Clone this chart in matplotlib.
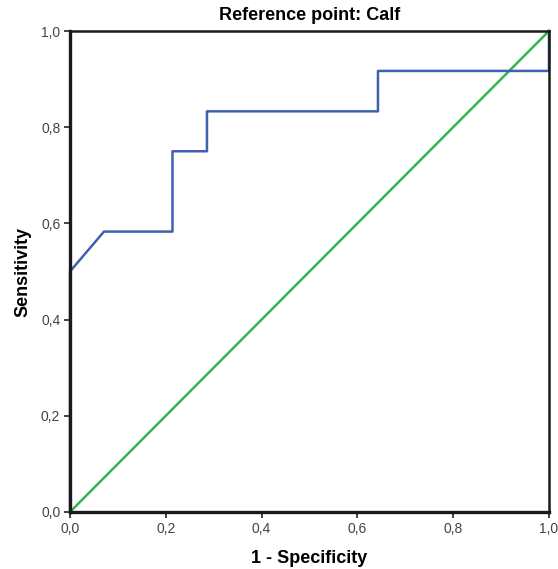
import matplotlib
matplotlib.use('Agg')
import matplotlib.pyplot as plt
from matplotlib.ticker import FuncFormatter

# courbe ROC
fpr = [0.0, 0.0, 0.071, 0.214, 0.214, 0.286, 0.286, 0.643, 0.643, 1.0, 1.0]
tpr = [0.0, 0.5, 0.583, 0.583, 0.75, 0.75, 0.833, 0.833, 0.917, 0.917, 1.0]
ref_x = [0.0, 1.0]
ref_y = [0.0, 1.0]
ticks = [0.0, 0.2, 0.4, 0.6, 0.8, 1.0]

plt.rcParams['font.family'] = ['Liberation Sans', 'DejaVu Sans']

fig = plt.figure(figsize=(5.58, 5.69), dpi=100)
ax = fig.add_axes([0.1254, 0.1002, 0.8584, 0.8453])

# lignes sous les axes pour que le cadre noir les recouvre
ax.plot(ref_x, ref_y, color='#2fb84c', lw=1.8, clip_on=False, zorder=1.9)
ax.plot(fpr, tpr, color='#4060b0', lw=1.8, clip_on=False, zorder=2)

ax.set_xlim(0, 1)
ax.set_ylim(0, 1)
ax.set_xticks(ticks)
ax.set_yticks(ticks)
virgule = FuncFormatter(lambda v, p: ('%.1f' % v).replace('.', ','))
ax.xaxis.set_major_formatter(virgule)
ax.yaxis.set_major_formatter(virgule)
ax.tick_params(direction='out', length=4, width=1.2, colors='#222222',
               labelsize=10, labelcolor='#444444', pad=3)

for side in ['left', 'bottom']:
    ax.spines[side].set_linewidth(2.4)
for side in ['top', 'right']:
    ax.spines[side].set_linewidth(1.8)
for s in ax.spines.values():
    s.set_color('#1a1a1a')

ax.set_title('Reference point: Calf', fontsize=13, fontweight='bold', pad=8)
ax.set_xlabel('1 - Specificity', fontsize=13, fontweight='bold', labelpad=10)
ax.set_ylabel('Sensitivity', fontsize=13, fontweight='bold', labelpad=7)

plt.savefig('out.png', dpi=100)
